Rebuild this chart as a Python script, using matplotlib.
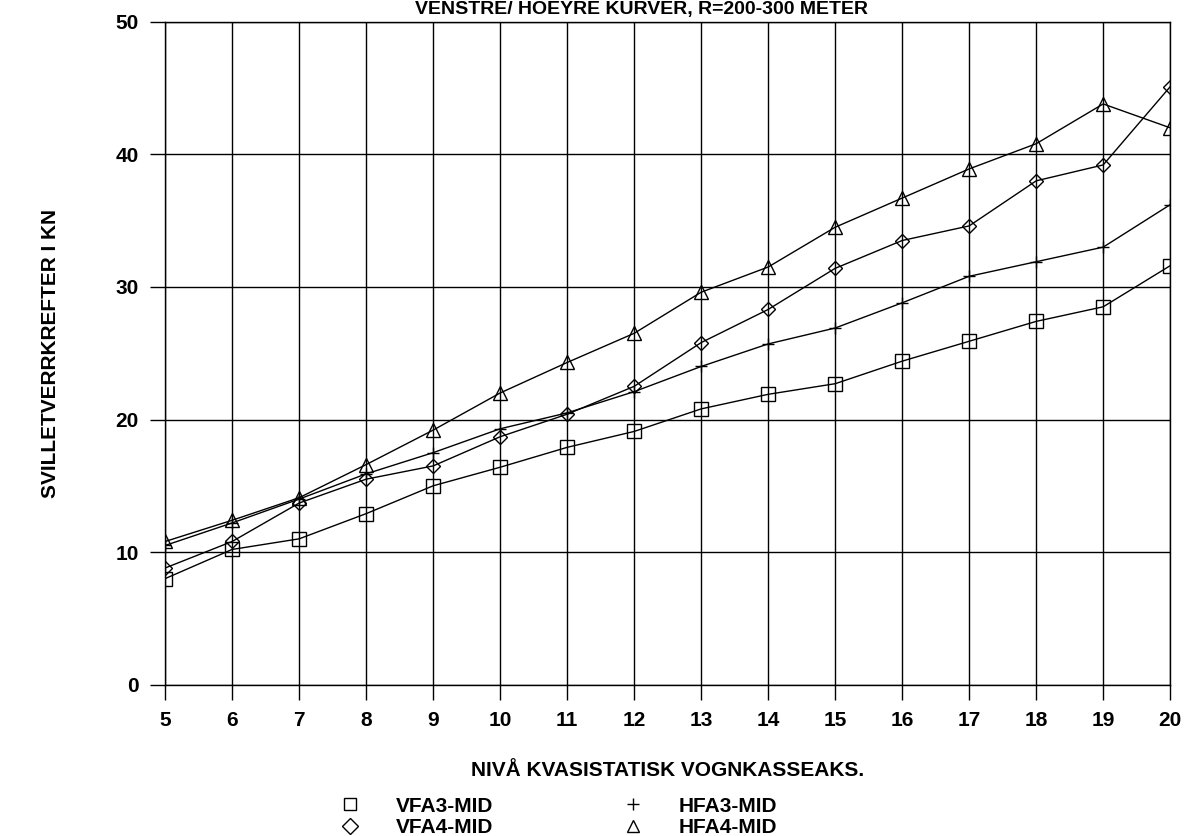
import matplotlib
matplotlib.use("Agg")
import matplotlib.pyplot as plt

plt.rcParams.update({
    "font.family": ["Liberation Sans Narrow", "Liberation Sans", "DejaVu Sans"],
    "font.weight": "bold",
})

niva = list(range(5, 21))
vfa3_mid = [8.0, 10.2, 11.0, 12.9, 15.0, 16.4, 17.9, 19.1, 20.8, 21.9, 22.7, 24.4, 25.9, 27.4, 28.5, 31.6]
hfa3_mid = [10.5, 12.2, 14.0, 15.9, 17.5, 19.3, 20.5, 22.1, 24.0, 25.7, 26.9, 28.8, 30.8, 31.9, 33.0, 36.2]
vfa4_mid = [8.8, 10.8, 13.7, 15.5, 16.5, 18.7, 20.4, 22.5, 25.8, 28.3, 31.4, 33.5, 34.6, 38.0, 39.2, 45.1]
hfa4_mid = [10.8, 12.4, 14.1, 16.6, 19.2, 22.0, 24.3, 26.5, 29.6, 31.5, 34.5, 36.7, 38.9, 40.8, 43.8, 42.0]

fig = plt.figure(figsize=(11.88, 8.36), dpi=100)
ax = fig.add_axes([0.139, 0.181, 0.846, 0.793])

mk = dict(color="black", linewidth=1.0, markerfacecolor="none", markeredgecolor="black",
          markeredgewidth=1.0)
ax.plot(niva, vfa3_mid, marker="s", markersize=10, label="VFA3-MID", **mk)
ax.plot(niva, vfa4_mid, marker="D", markersize=7, label="VFA4-MID", **mk)
ax.plot(niva, hfa3_mid, marker="+", markersize=9, label="HFA3-MID", **mk)
ax.plot(niva, hfa4_mid, marker="^", markersize=10, label="HFA4-MID", **mk)

ax.set_xlim(5, 20)
ax.set_ylim(0, 50)
ax.set_xticks(niva)
ax.set_yticks([0, 10, 20, 30, 40, 50])
ax.grid(True, color="black", linewidth=1.0)
ax.tick_params(direction="out", length=11, width=1.0, labelsize=15, pad=8)
for s in ax.spines.values():
    s.set_linewidth(1.0)
    s.set_color("black")

ax.set_ylabel("SVILLETVERRKREFTER I KN", fontsize=15, fontweight="bold", labelpad=40)
ax.set_xlabel("NIVÅ KVASISTATISK VOGNKASSEAKS.", fontsize=15, fontweight="bold", labelpad=22)
fig.text(0.54, 0.999, "VENSTRE/ HOEYRE KURVER, R=200-300 METER", fontsize=14,
         fontweight="bold", ha="center", va="top")

ax.legend(loc="upper left", bbox_to_anchor=(0.184, -0.169), ncol=2, frameon=False,
          fontsize=15, handlelength=0, handletextpad=2.2, columnspacing=6.7,
          labelspacing=0.1, borderaxespad=0, borderpad=0)
leg = ax.get_legend()
for h in leg.legend_handles:
    h.set_linestyle("none")
    h.set_markersize(8)

fig.savefig("out.png", dpi=100)
